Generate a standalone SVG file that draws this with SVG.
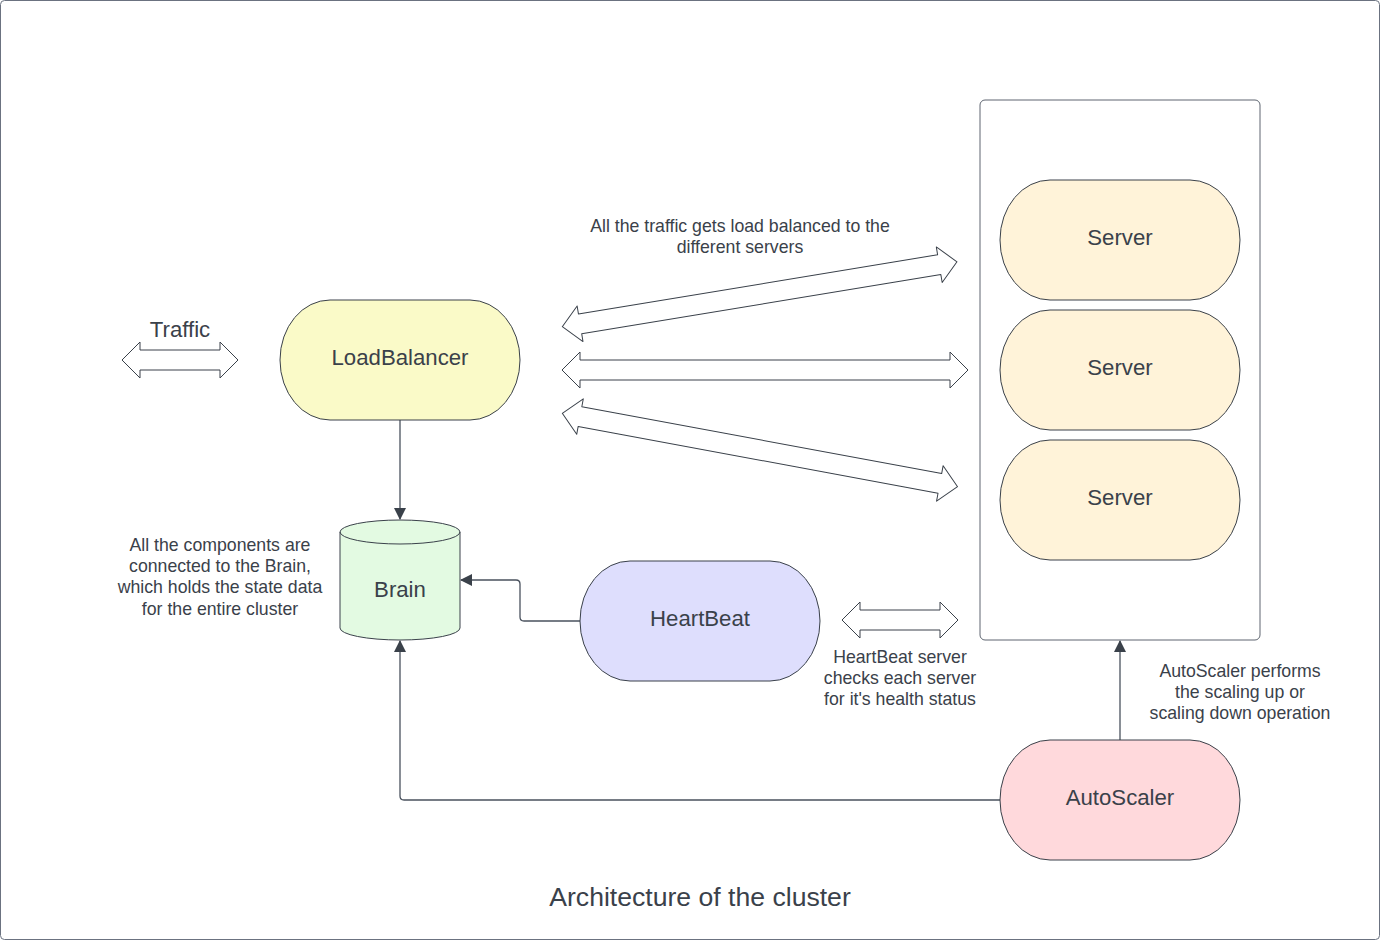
<svg xmlns="http://www.w3.org/2000/svg" width="1380" height="940" viewBox="0 0 1380 940">
<style>
text{font-family:"Liberation Sans",Arial,sans-serif;fill:#3a414a;text-anchor:middle;dominant-baseline:central}
.lbl{font-size:22.2px}
.sm{font-size:17.7px}
.node{stroke:#3a414a;stroke-width:1}
.blk{fill:#ffffff;stroke:#3a414a;stroke-width:1;stroke-linejoin:round}
.conn{fill:none;stroke:#4a525e;stroke-width:1.3}
</style>
<defs>
<marker id="ah" viewBox="0 0 12 12" refX="11" refY="6" markerWidth="12" markerHeight="12" markerUnits="userSpaceOnUse" orient="auto">
<path d="M0,0 L12,6 L0,12 Z" fill="#3a414a"/>
</marker>
</defs>
<rect x="0.5" y="0.5" width="1379" height="939" rx="4" fill="#ffffff" stroke="#6b7280" stroke-width="1"/>

<g id="connectors">
<path class="conn" d="M400,420 V519" marker-end="url(#ah)"/>
<path class="conn" d="M580,621 H524 Q520,621 520,617 V584 Q520,580 516,580 H461" marker-end="url(#ah)"/>
<path class="conn" d="M1000,800 H404 Q400,800 400,796 V641" marker-end="url(#ah)"/>
<path class="conn" d="M1120,740 V641" marker-end="url(#ah)"/>
</g>

<g id="block-arrows">
<path id="traffic-arrow" class="blk" transform="translate(122,360)" d="M0,0 L18,-18 L18,-10 L98,-10 L98,-18 L116,0 L98,18 L98,10 L18,10 L18,18 Z"/>
<path id="lb-server1" class="blk" transform="translate(562.3,326.7) rotate(-9.34)" d="M0,0 L18,-18 L18,-10 L382,-10 L382,-18 L400,0 L382,18 L382,10 L18,10 L18,18 Z"/>
<path id="lb-server2" class="blk" transform="translate(562,370)" d="M0,0 L18,-18 L18,-10 L388,-10 L388,-18 L406,0 L388,18 L388,10 L18,10 L18,18 Z"/>
<path id="lb-server3" class="blk" transform="translate(562.3,413.3) rotate(10.52)" d="M0,0 L18,-18 L18,-10 L384,-10 L384,-18 L402,0 L384,18 L384,10 L18,10 L18,18 Z"/>
<path id="hb-arrow" class="blk" transform="translate(842,620)" d="M0,0 L18,-18 L18,-10 L98,-10 L98,-18 L116,0 L98,18 L98,10 L18,10 L18,18 Z"/>
</g>

<g id="server-container">
<rect x="980" y="100" width="280" height="540" rx="5" fill="#ffffff" stroke="#5e6570" stroke-width="1"/>
</g>

<g id="loadbalancer">
<rect class="node" x="280" y="300" width="240" height="120" rx="50" ry="60" fill="#fafac8"/>
<text class="lbl" x="400" y="357">LoadBalancer</text>
</g>

<g id="server1">
<rect class="node" x="1000" y="180" width="240" height="120" rx="50" ry="60" fill="#fff3d9"/>
<text class="lbl" x="1120" y="237">Server</text>
</g>
<g id="server2">
<rect class="node" x="1000" y="310" width="240" height="120" rx="50" ry="60" fill="#fff3d9"/>
<text class="lbl" x="1120" y="367">Server</text>
</g>
<g id="server3">
<rect class="node" x="1000" y="440" width="240" height="120" rx="50" ry="60" fill="#fff3d9"/>
<text class="lbl" x="1120" y="497">Server</text>
</g>

<g id="brain">
<path class="node" d="M340,532 A60,12 0 0 1 460,532 V628 A60,12 0 0 1 340,628 Z" fill="#e3fae2"/>
<path d="M340,532 A60,12 0 0 0 460,532" fill="none" stroke="#3a414a" stroke-width="1"/>
<text class="lbl" x="400" y="589">Brain</text>
</g>

<g id="heartbeat">
<rect class="node" x="580" y="561" width="240" height="120" rx="50" ry="60" fill="#dedefd"/>
<text class="lbl" x="700" y="618">HeartBeat</text>
</g>

<g id="autoscaler">
<rect class="node" x="1000" y="740" width="240" height="120" rx="50" ry="60" fill="#ffd9dc"/>
<text class="lbl" x="1120" y="797">AutoScaler</text>
</g>

<g id="labels">
<text class="lbl" x="180" y="329">Traffic</text>
<text class="sm" x="740" y="226">All the traffic gets load balanced to the</text>
<text class="sm" x="740" y="247">different servers</text>
<text class="sm" x="220" y="545">All the components are</text>
<text class="sm" x="220" y="566">connected to the Brain,</text>
<text class="sm" x="220" y="587">which holds the state data</text>
<text class="sm" x="220" y="609">for the entire cluster</text>
<text class="sm" x="900" y="657">HeartBeat server</text>
<text class="sm" x="900" y="678">checks each server</text>
<text class="sm" x="900" y="699">for it's health status</text>
<text class="sm" x="1240" y="671">AutoScaler performs</text>
<text class="sm" x="1240" y="692">the scaling up or</text>
<text class="sm" x="1240" y="713">scaling down operation</text>
<text x="700" y="897" style="font-size:26.6px">Architecture of the cluster</text>
</g>
</svg>
